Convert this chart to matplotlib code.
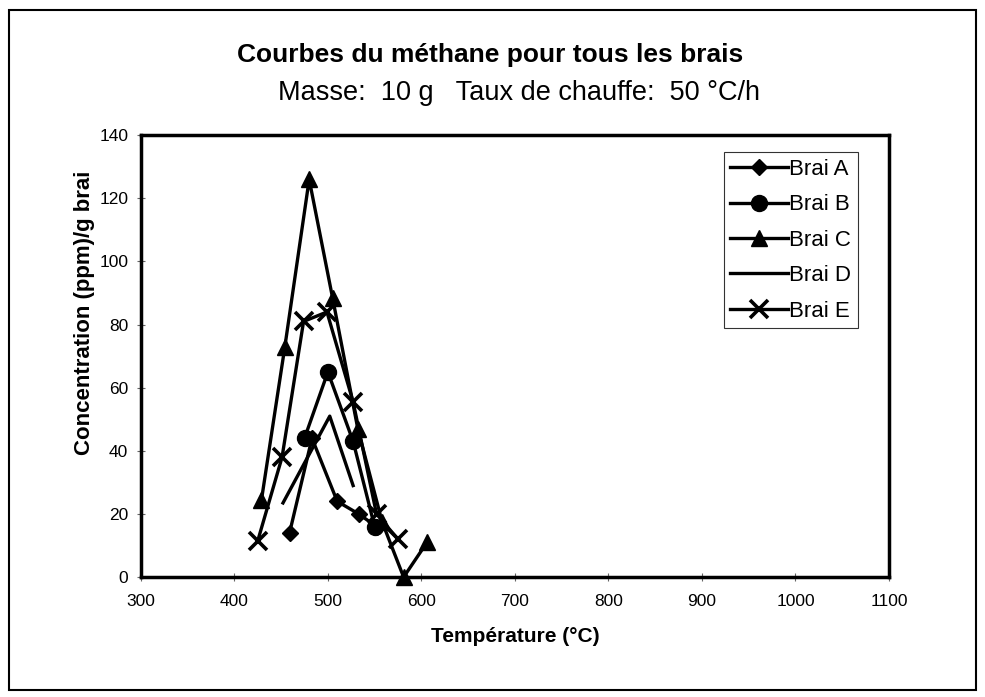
import numpy as np
import matplotlib
matplotlib.use("Agg")
import matplotlib.pyplot as plt
from matplotlib.patches import Rectangle

plt.rcParams['font.family'] = ['Liberation Sans', 'DejaVu Sans']

# donnees
t_a = [459, 483, 510, 533, 552]
c_a = [14, 44, 24, 20, 16]
t_b = [475, 500, 527, 550]
c_b = [44, 65, 43, 16]
t_c = [429, 454, 480, 505, 532, 558, 581, 606]
c_c = [24.5, 73, 126, 88.5, 47, 17.5, 0, 11]
t_d = [452, 502, 527]
c_d = [23.5, 51, 29]
t_e = [425, 451, 474, 499, 527, 552, 575]
c_e = [11.5, 38, 81, 84, 55.5, 20, 12]

series = [("Brai A", t_a, c_a, "D", 8.5),
          ("Brai B", t_b, c_b, "o", 11.5),
          ("Brai C", t_c, c_c, "^", 12),
          ("Brai D", t_d, c_d, "", 0),
          ("Brai E", t_e, c_e, "x", 12.5)]

fig = plt.figure(figsize=(9.85, 6.97), dpi=100)
ax = fig.add_axes([0.143, 0.172, 0.7595, 0.634])

for nom, t, c, m, ms in series:
    ax.plot(t, c, color="black", lw=2.4, marker=m, markersize=ms,
            markeredgewidth=2.6 if m == "x" else 1, label=nom, clip_on=False)

ax.set_xlim(300, 1100)
ax.set_ylim(0, 140)
ax.set_xticks(np.arange(300, 1101, 100))
ax.set_yticks(np.arange(0, 141, 20))
ax.tick_params(direction="inout", length=6, width=0.8, color="#666666", labelsize=12.5)
ax.tick_params(axis="x", pad=9)
ax.tick_params(axis="y", pad=6)
for s in ax.spines.values():
    s.set_linewidth(2.5)

ax.set_xlabel("Température (°C)", fontsize=15, fontweight="bold", labelpad=13)
ax.set_ylabel("Concentration (ppm)/g brai", fontsize=16, fontweight="bold")
ax.yaxis.set_label_coords(-0.061, 0.597)

fig.text(0.4975, 0.921, "Courbes du méthane pour tous les brais", ha="center", va="center",
         fontsize=19, fontweight="bold")
fig.text(0.527, 0.866, "Masse:  10 g   Taux de chauffe:  50 °C/h", ha="center", va="center",
         fontsize=19.5)

leg = ax.legend(loc="upper right", bbox_to_anchor=(0.9586, 0.9615), fontsize=16,
                frameon=True, fancybox=False, handlelength=2.6, handletextpad=0.05,
                borderpad=0.3, labelspacing=0.65, borderaxespad=0)
leg.get_frame().set_edgecolor("black")
leg.get_frame().set_linewidth(0.8)

fig.patches.append(Rectangle((0.009, 0.01), 0.982, 0.975, transform=fig.transFigure,
                             fill=False, edgecolor="black", lw=1.5))

fig.savefig("out.png", dpi=100)
